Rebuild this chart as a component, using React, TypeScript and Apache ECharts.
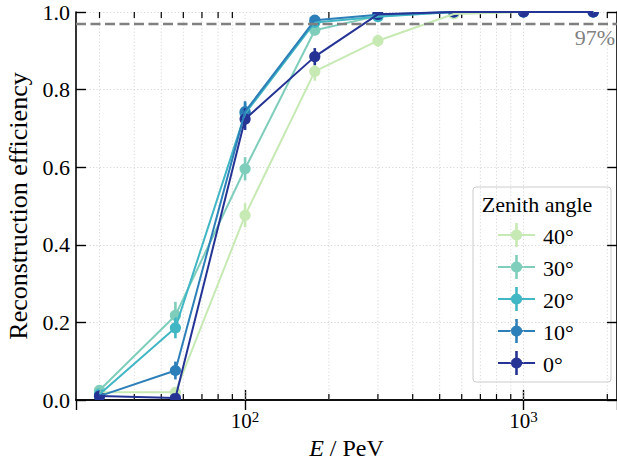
import React, { useEffect, useRef } from 'react';
import * as echarts from 'echarts';

const energies = [30, 56.2, 100, 178, 300, 562, 1000, 1780];
const angleLabels = ['40°', '30°', '20°', '10°', '0°'];
const colors = ['#c7e9b4', '#7fcdbb', '#41b6c4', '#2c7fb8', '#253494'];

const eff40 = [0.02, 0.02, 0.476, 0.847, 0.926, 0.995, 1.0, 1.0];
const eff30 = [0.025, 0.218, 0.596, 0.953, 0.99, 1.0, 1.0, 1.0];
const eff20 = [0.015, 0.186, 0.738, 0.973, 0.988, 1.0, 1.0, 1.0];
const eff10 = [0.01, 0.076, 0.743, 0.979, 0.993, 1.0, 1.0, 1.0];
const eff0 = [0.01, 0.005, 0.724, 0.885, 0.994, 1.0, 1.0, 1.0];

const err40 = [0.008, 0.008, 0.031, 0.024, 0.016, 0.005, 0.0, 0.0];
const err30 = [0.009, 0.035, 0.03, 0.013, 0.006, 0.0, 0.0, 0.0];
const err20 = [0.008, 0.027, 0.028, 0.01, 0.006, 0.0, 0.0, 0.0];
const err10 = [0.006, 0.023, 0.027, 0.009, 0.005, 0.0, 0.0, 0.0];
const err0 = [0.006, 0.005, 0.028, 0.022, 0.005, 0.0, 0.0, 0.0];

const effs = [eff40, eff30, eff20, eff10, eff0];
const errs = [err40, err30, err20, err10, err0];

const gridTicks = [30, 40, 50, 60, 70, 80, 90, 100, 200, 300, 400, 500, 600, 700, 800, 900, 1000, 2000];
const majorTicks = [100, 1000];
const yTicks = [0, 0.2, 0.4, 0.6, 0.8, 1.0];
const threshold = 0.97;

const X_MIN = 24.7;
const X_MAX = 2167;
const FONT = 'Liberation Serif';

export default function App() {
  const ref = useRef<HTMLDivElement>(null);
  useEffect(() => {
    document.body.style.margin = '0';
    const chart = echarts.init(ref.current!, null, { renderer: 'svg' });

    const isPow10 = (v: number) => {
      const l = Math.log10(v);
      return Math.abs(l - Math.round(l)) < 1e-6;
    };

    const series: any[] = [];

    // grid lines + minor ticks (through the axis scale)
    series.push({
      type: 'custom',
      silent: true,
      clip: false,
      z: 1,
      data: gridTicks.map((v) => [v, 0]),
      encode: { x: 0, y: 1 },
      renderItem: (params: any, api: any) => {
        const x = api.value(0);
        const b = api.coord([x, 0]);
        const t = api.coord([x, 1]);
        const major = majorTicks.indexOf(x) >= 0;
        const children: any[] = [
          {
            type: 'line',
            shape: { x1: b[0], y1: b[1], x2: t[0], y2: t[1] },
            style: { stroke: '#d4d4d4', lineWidth: 0.9, lineDash: [1.2, 2.2] },
          },
        ];
        if (!major) {
          children.push(
            { type: 'line', shape: { x1: b[0], y1: b[1], x2: b[0], y2: b[1] - 6 }, style: { stroke: '#000', lineWidth: 1.2 } },
            { type: 'line', shape: { x1: t[0], y1: t[1], x2: t[0], y2: t[1] + 6 }, style: { stroke: '#000', lineWidth: 1.2 } }
          );
        }
        return { type: 'group', children };
      },
    });

    effs.forEach((eff, i) => {
      const color = colors[i];
      const line: any = {
        type: 'line',
        name: angleLabels[i],
        data: energies.map((e, k) => [e, eff[k]]),
        symbol: 'none',
        showSymbol: false,
        clip: true,
        silent: true,
        lineStyle: { color, width: 2 },
      };
      if (i === 0) {
        line.markLine = {
          silent: true,
          symbol: 'none',
          lineStyle: { color: '#808080', type: [10, 4.5], width: 2.4 },
          label: {
            show: true,
            position: 'insideEndBottom',
            formatter: '97%',
            color: '#808080',
            fontSize: 22,
            fontFamily: FONT,
            distance: [2, 3],
          },
          data: [{ yAxis: threshold }],
        };
      }
      series.push(line);
      series.push({
        type: 'custom',
        name: angleLabels[i] + ' err',
        clip: true,
        silent: true,
        data: energies.map((e, k) => [e, eff[k], errs[i][k]]),
        encode: { x: 0, y: 1 },
        renderItem: (params: any, api: any) => {
          const x = api.value(0);
          const y = api.value(1);
          const e = api.value(2);
          const c = api.coord([x, y]);
          const lo = api.coord([x, y - e]);
          const hi = api.coord([x, y + e]);
          return {
            type: 'group',
            children: [
              { type: 'line', shape: { x1: c[0], y1: lo[1], x2: c[0], y2: hi[1] }, style: { stroke: color, lineWidth: 2.6 } },
              { type: 'circle', shape: { cx: c[0], cy: c[1], r: 5.6 }, style: { fill: color } },
            ],
          };
        },
      });
    });

    // legend drawn as graphic
    const lgX = 473, lgY = 187, lgW = 138, lgH = 195;
    const legendChildren: any[] = [
      { type: 'rect', shape: { x: lgX, y: lgY, width: lgW, height: lgH, r: 3 }, style: { fill: 'rgba(255,255,255,0.85)', stroke: '#cccccc', lineWidth: 1 } },
      { type: 'text', x: 537, y: lgY + 17, style: { text: 'Zenith angle', font: `22px "${FONT}"`, fill: '#000', align: 'center', verticalAlign: 'middle' } },
    ];
    angleLabels.forEach((lab, i) => {
      const cy = 235 + i * 32;
      const color = colors[i];
      legendChildren.push(
        { type: 'line', shape: { x1: 498, y1: cy, x2: 535, y2: cy }, style: { stroke: color, lineWidth: 2 } },
        { type: 'line', shape: { x1: 516.5, y1: cy - 12, x2: 516.5, y2: cy + 12 }, style: { stroke: color, lineWidth: 2.6 } },
        { type: 'circle', shape: { cx: 516.5, cy, r: 5.6 }, style: { fill: color } },
        { type: 'text', x: 543, y: cy + 1, style: { text: lab, font: `22px "${FONT}"`, fill: '#000', align: 'left', verticalAlign: 'middle' } }
      );
    });

    const axisLineStyle = { color: '#000', width: 1.6 };

    const option: any = {
      animation: false,
      backgroundColor: '#fff',
      grid: { left: 76, right: 0, top: 12, bottom: 61, containLabel: false, outerBoundsMode: 'none' },
      xAxis: [
        {
          type: 'log',
          logBase: 10,
          min: X_MIN,
          max: X_MAX,
          position: 'bottom',
          axisLine: { show: true, lineStyle: axisLineStyle },
          axisTick: { show: true, inside: true, length: 10, lineStyle: { color: '#000', width: 1.4 } },
          splitLine: { show: false },
          minorTick: { show: false },
          axisLabel: {
            margin: 9,
            showMinLabel: false,
            showMaxLabel: false,
            formatter: (v: number) => (isPow10(v) ? `{b|10}{s|${Math.round(Math.log10(v))}}` : ''),
            rich: {
              b: { fontSize: 21, fontFamily: FONT, color: '#000', lineHeight: 24 },
              s: { fontSize: 15, fontFamily: FONT, color: '#000', verticalAlign: 'top', lineHeight: 15 },
            },
          },
          name: '{i|E} / PeV',
          nameLocation: 'middle',
          nameGap: 35,
          nameTextStyle: {
            rich: {
              i: { fontSize: 24, fontFamily: FONT, fontStyle: 'italic', color: '#000', lineHeight: 21 },
            },
            fontSize: 24,
            lineHeight: 21,
            fontFamily: FONT,
            color: '#000',
          },
        },
        {
          type: 'log',
          logBase: 10,
          min: X_MIN,
          max: X_MAX,
          position: 'top',
          axisLine: { show: true, lineStyle: axisLineStyle },
          axisTick: { show: true, inside: true, length: 10, lineStyle: { color: '#000', width: 1.4 } },
          axisLabel: { show: false },
          splitLine: { show: false },
        },
      ],
      yAxis: [
        {
          type: 'value',
          min: yTicks[0],
          max: yTicks[yTicks.length - 1],
          interval: 0.2,
          axisLine: { show: true, lineStyle: axisLineStyle },
          axisTick: { show: true, inside: true, length: 10, lineStyle: { color: '#000', width: 1.4 } },
          splitLine: { show: true, lineStyle: { color: '#d4d4d4', width: 0.9, type: [1.2, 2.2] } },
          axisLabel: {
            margin: 6,
            fontSize: 22,
            fontFamily: FONT,
            color: '#000',
            formatter: (v: number) => v.toFixed(1),
          },
          name: 'Reconstruction efficiency',
          nameLocation: 'middle',
          nameGap: 44,
          nameTextStyle: { fontSize: 26, fontFamily: FONT, color: '#000' },
        },
        {
          type: 'value',
          min: yTicks[0],
          max: yTicks[yTicks.length - 1],
          interval: 0.2,
          position: 'right',
          axisLine: { show: true, lineStyle: axisLineStyle },
          axisTick: { show: true, inside: true, length: 10, lineStyle: { color: '#000', width: 1.4 } },
          axisLabel: { show: false },
          splitLine: { show: false },
        },
      ],
      series,
      graphic: [{ type: 'group', z: 100, children: legendChildren }],
    };

    chart.setOption(option);
    return () => chart.dispose();
  }, []);
  return <div ref={ref} style={{ width: 617, height: 461 }} />;
}
